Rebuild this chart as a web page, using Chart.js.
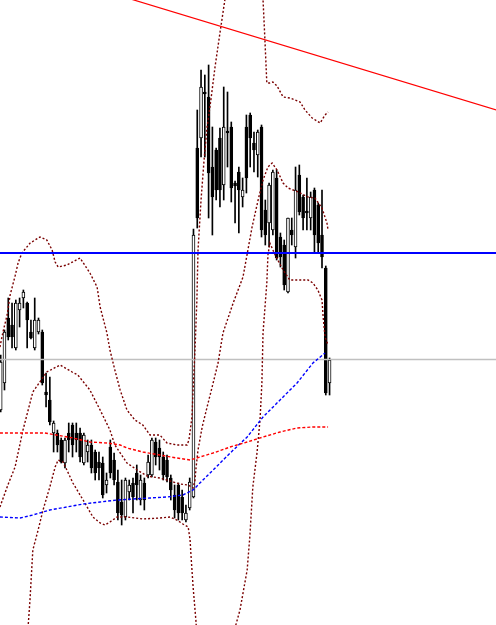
<!DOCTYPE html>
<html>
<head>
<meta charset="utf-8">
<script src="https://cdn.jsdelivr.net/npm/chart.js@4"></script>
<style>
  html, body { margin: 0; padding: 0; background: #fff; }
  canvas { display: block; }
</style>
</head>
<body>
<canvas id="chart" width="496" height="625"></canvas>
<script>
// ===== Data (price units, candle index on x) =====
const opens = [215,242,307,300,277,315,327,322,293,277, 293,293,233,225,192,192,185,162,192,200,
  192,192,162,173,180,173,163,162,140,178, 165,143,123,108,133,142,152,125,142,150,
  150,183,177,168,165,147,130,140,128,105, 117,128,477,487,533,528,458,475,487,440,
  494,498,442,453,428,498,510,482,470,498, 415,402,395,447,388,380,333,395,378,450,
  428,414,407,435,420,390,357,242];
const highs = [270,295,327,322,325,327,335,323,305,327, 307,295,252,248,204,195,187,187,202,202,
  202,197,192,185,185,175,173,168,152,185, 172,155,145,147,145,147,160,150,147,170,
  187,187,185,173,170,150,140,142,135,120, 147,396,515,555,550,560,498,477,497,538,
  533,503,444,458,447,510,512,493,495,500, 425,442,455,455,392,385,407,407,458,460,
  430,447,433,437,422,435,359,267];
const lows = [213,235,285,277,275,298,317,277,286,275, 291,240,218,200,173,173,162,157,173,168,
  173,163,160,163,152,145,145,127,132,147, 140,105,100,105,125,112,125,120,115,147,
  148,160,155,145,143,125,107,105,105,103, 115,127,397,468,468,407,390,425,418,425,
  458,423,402,392,418,432,458,453,448,388, 380,378,390,365,358,335,332,380,367,410,
  395,395,395,373,373,357,230,230];
const closes = [263,293,288,288,322,322,333,305,287,305, 305,242,230,203,202,180,163,185,185,180,
  185,168,190,180,157,152,157,130,145,152, 145,112,110,145,140,128,140,145,125,163,
  185,168,168,150,148,135,115,112,112,112, 143,390,407,538,531,452,428,435,435,498,
  492,437,439,435,435,447,487,475,493,395, 390,440,453,367,368,340,407,390,435,413,
  407,412,428,390,382,368,232,265];

// horizontal levels + trend line
const levelBlue = 372;
const levelGray = 265.5;
const trendLine = [[30, 631], [132, 514]];

// moving averages [index, price]
const maRed = [[-0.2,192],[11.7,192],[19.1,187],[23.6,183],[28.1,182],[31.6,180],[33.4,177],[37.6,173],
  [42.1,170],[46.6,167],[50.1,165],[52.7,168],[56.2,172],[60.7,178],[65.2,183],[69.4,188],[73.9,193],
  [78.4,197],[82.6,198],[86.6,198]];
const maBlue = [[-0.2,108],[5.1,107],[8.5,110],[13.0,115],[17.5,118],[21.8,121],[26.3,123],[30.8,125],
  [35.0,126],[39.5,127],[44.0,128],[48.2,130],[50.9,135],[52.7,142],[56.2,155],[60.7,172],[65.2,188],
  [69.4,208],[73.9,225],[78.4,242],[82.6,262],[85.8,272]];

// bands
const bandUpper = [[-0.2,278],[0.6,293],[1.7,310],[2.5,330],[3.8,349],[4.6,362],[5.6,372],[7.8,382],
  [10.4,388],[12.2,385],[13.6,375],[14.4,363],[15.2,358],[17.5,360],[21.0,367],[23.6,352],[25.5,338],
  [26.3,318],[28.1,292],[28.9,275],[30.2,255],[31.6,235],[33.4,215],[35.5,205],[37.6,200],[39.5,190],
  [42.1,190],[44.0,182],[46.6,180],[49.3,180],[49.8,185],[50.6,208],[50.9,235],[51.4,275],[51.9,325],
  [52.2,375],[53.0,425],[53.8,465],[54.6,498],[55.6,525],[56.7,558],[58.0,592],[59.3,625],[60.4,650],
  [68.9,650],[69.4,625],[69.9,585],[70.4,542],[71.2,542],[72.0,543],[73.1,539],[74.7,528],[76.5,527],
  [79.2,523],[80.5,515],[82.4,507],[84.5,502],[85.8,510],[86.6,513]];
const bandLower = [[7.0,-15],[7.75,25],[8.5,75],[9.9,95],[11.2,115],[13.0,138],[14.4,158],[15.2,165],
  [16.5,163],[17.5,155],[19.1,142],[21.8,125],[24.4,108],[26.3,102],[27.6,100],[28.9,103],[30.8,108],
  [33.4,108],[37.6,106],[42.1,107],[44.8,108],[46.6,105],[48.2,101],[49.6,98],[50.1,85],[50.3,72],
  [50.9,38],[51.7,2],[51.9,-25],[61.7,-25],[62.2,0],[63.3,15],[65.2,55],[65.9,88],[66.7,138],[67.8,172],
  [68.6,205],[69.1,242],[69.4,292],[70.4,342],[70.7,370],[71.2,382],[72.6,370],[74.7,355],[76.5,345],
  [79.2,345],[81.3,345],[82.6,342],[83.9,335],[85.0,325],[85.3,308],[85.8,288],[86.6,280]];
const bandOuter = [[-0.2,118],[1.9,140],[3.8,158],[5.9,195],[8.5,233],[12.2,253],[15.7,260],[18.9,253],
  [20.4,250],[23.6,235],[26.3,215],[28.9,195],[30.2,180],[33.4,162],[36.1,155],[38.7,149],[42.1,147],
  [44.8,144],[47.4,141],[49.6,140],[50.9,137],[51.4,145],[51.7,158],[52.2,175],[53.3,198],[54.6,218],
  [56.2,242],[57.5,262],[58.8,292],[61.5,322],[64.1,348],[66.5,398],[68.1,425],[69.4,445],[70.7,458],
  [71.8,462],[73.1,455],[74.7,442],[76.0,437],[78.7,433],[81.3,428],[83.1,427],[85.0,417],[86.3,402],
  [86.6,395]];

// ===== Helpers =====
const toPts = arr => arr.map(([x, y]) => ({ x, y }));

function lineSet(points, color, width, dash) {
  return {
    type: 'line',
    data: toPts(points),
    borderColor: color,
    borderWidth: width,
    borderDash: dash,
    pointRadius: 0,
    fill: false,
    tension: 0,
    order: 0
  };
}

// ===== Chart =====
const bodies = opens.map((o, i) => ({ x: i, y: [o, closes[i]] }));
const wicks = highs.map((h, i) => ({ x: i, y: [lows[i], h] }));

new Chart(document.getElementById('chart'), {
  type: 'bar',
  data: {
    datasets: [
      lineSet([[-1, levelBlue], [132, levelBlue]], '#0000ff', 2, []),
      lineSet(trendLine, '#ff0000', 1.2, []),
      lineSet(maRed, '#ff0000', 1.4, [3, 2]),
      lineSet(maBlue, '#0000ff', 1.4, [3, 2]),
      lineSet(bandUpper, '#7a0000', 1.4, [2, 2]),
      lineSet(bandLower, '#7a0000', 1.4, [2, 2]),
      lineSet(bandOuter, '#7a0000', 1.4, [2, 2]),
      {
        data: bodies,
        backgroundColor: opens.map((o, i) => closes[i] >= o ? '#ffffff' : '#000000'),
        borderColor: '#000000',
        borderWidth: 1,
        borderSkipped: false,
        barThickness: 3,
        grouped: false,
        order: 1
      },
      {
        data: wicks,
        backgroundColor: '#000000',
        borderWidth: 0,
        barThickness: 1,
        grouped: false,
        order: 2
      },
      lineSet([[-1, levelGray], [132, levelGray]], '#c0c0c0', 1.3, [])
    ]
  },
  options: {
    responsive: false,
    devicePixelRatio: 1,
    animation: false,
    layout: { padding: 0 },
    plugins: { legend: { display: false }, tooltip: { enabled: false } },
    scales: {
      x: { type: 'linear', display: false, offset: false, min: -0.185, max: 131.03 },
      y: { type: 'linear', display: false, min: 0, max: 625 }
    }
  }
});
</script>
</body>
</html>
